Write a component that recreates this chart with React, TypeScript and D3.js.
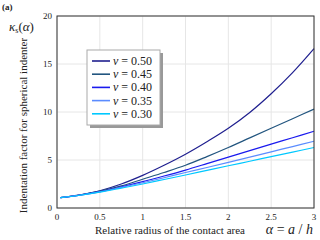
import React from "react";
import * as d3 from "d3";

const alpha = [0.04, 0.25, 0.5, 0.75, 1, 1.25, 1.5, 1.75, 2, 2.25, 2.5, 2.75, 3];

const nu50 = [1.08, 1.35, 1.8, 2.5, 3.4, 4.45, 5.6, 6.9, 8.3, 9.95, 11.9, 14.1, 16.6];
const nu45 = [1.08, 1.33, 1.75, 2.3, 3.0, 3.7, 4.45, 5.35, 6.3, 7.3, 8.3, 9.3, 10.3];
const nu40 = [1.08, 1.32, 1.7, 2.2, 2.74, 3.33, 3.95, 4.62, 5.3, 5.97, 6.65, 7.32, 8.0];
const nu35 = [1.08, 1.31, 1.68, 2.15, 2.63, 3.15, 3.7, 4.22, 4.75, 5.3, 5.85, 6.4, 6.95];
const nu30 = [1.08, 1.3, 1.65, 2.07, 2.5, 2.97, 3.44, 3.92, 4.4, 4.87, 5.35, 5.82, 6.3];

const seriesLabels = ["0.50", "0.45", "0.40", "0.35", "0.30"];
const seriesValues = [nu50, nu45, nu40, nu35, nu30];
const seriesColors = ["#1f1f8f", "#22557f", "#1a1aee", "#5b8cff", "#00c8ff"];

const xTicks = [0, 0.5, 1, 1.5, 2, 2.5, 3];
const xTickLabels = ["0", "0.5", "1", "1.5", "2", "2.5", "3"];
const yTicks = [0, 5, 10, 15, 20];

const serif = "Liberation Serif";

const App: React.FC = () => {
  const W = 320;
  const H = 240;
  const m = { left: 57, right: 6, top: 16, bottom: 32 };
  const x = d3.scaleLinear().domain([0, 3]).range([m.left, W - m.right]);
  const y = d3.scaleLinear().domain([0, 20]).range([H - m.bottom, m.top]);

  const line = d3
    .line<number>()
    .x((_, i) => x(alpha[i]))
    .y((d) => y(d))
    .curve(d3.curveCatmullRom);

  const lg = { x: 87, y: 50, w: 73, h: 75 };

  return (
    <svg
      width={W}
      height={H}
      style={{ position: "absolute", left: 0, top: 0, background: "#fff", fontFamily: serif }}
    >
      {xTicks.map((t) => (
        <line key={"gx" + t} x1={x(t)} x2={x(t)} y1={y(20)} y2={y(0)} stroke="#e6e6e6" strokeWidth={1} />
      ))}
      {yTicks.map((t) => (
        <line key={"gy" + t} x1={x(0)} x2={x(3)} y1={y(t)} y2={y(t)} stroke="#e6e6e6" strokeWidth={1} />
      ))}
      {seriesValues.map((vals, i) => (
        <path key={seriesLabels[i]} d={line(vals) || ""} fill="none" stroke={seriesColors[i]} strokeWidth={1.2} />
      ))}
      <rect x={x(0)} y={y(20)} width={x(3) - x(0)} height={y(0) - y(20)} fill="none" stroke="#333" strokeWidth={1} />
      {xTicks.map((t, i) => (
        <text key={"tx" + t} x={x(t)} y={y(0) + 12} fontSize={9} textAnchor="middle" fill="#222">
          {xTickLabels[i]}
        </text>
      ))}
      {yTicks.map((t) => (
        <text key={"ty" + t} x={x(0) - 5} y={y(t) + 3} fontSize={9} textAnchor="end" fill="#222">
          {t}
        </text>
      ))}

      <rect x={lg.x + 3} y={lg.y + 3} width={lg.w} height={lg.h} fill="#999" />
      <rect x={lg.x} y={lg.y} width={lg.w} height={lg.h} fill="#fff" stroke="#aaa" strokeWidth={1} />
      {seriesLabels.map((lab, i) => {
        const ry = lg.y + 11 + i * 13.2;
        return (
          <g key={"lg" + lab}>
            <line x1={lg.x + 5} x2={lg.x + 23} y1={ry} y2={ry} stroke={seriesColors[i]} strokeWidth={1.6} />
            <text x={lg.x + 26} y={ry + 4} fontSize={12} fill="#222">
              <tspan fontStyle="italic">ν</tspan> = {lab}
            </text>
          </g>
        );
      })}

      <text x={2} y={10} fontSize={9} fontWeight="bold" fill="#222">(a)</text>
      <text x={9} y={31} fontSize={13} fill="#222">
        <tspan fontStyle="italic">κ</tspan>
        <tspan fontSize={8} dy={2}>s</tspan>
        <tspan dy={-2}>(</tspan>
        <tspan fontStyle="italic">α</tspan>
        <tspan>)</tspan>
      </text>
      <text
        transform={`translate(27, ${(y(0) + 33) / 2 + 5}) rotate(-90)`}
        fontSize={11}
        textAnchor="middle"
        fill="#222"
      >
        Indentation factor for spherical indenter
      </text>
      <text x={170} y={234} fontSize={11} textAnchor="middle" fill="#222">
        Relative radius of the contact area
      </text>
      <text x={313} y={234} fontSize={14} textAnchor="end" fill="#222">
        <tspan fontStyle="italic">α</tspan> = <tspan fontStyle="italic">a</tspan> / <tspan fontStyle="italic">h</tspan>
      </text>
    </svg>
  );
};

export default App;
